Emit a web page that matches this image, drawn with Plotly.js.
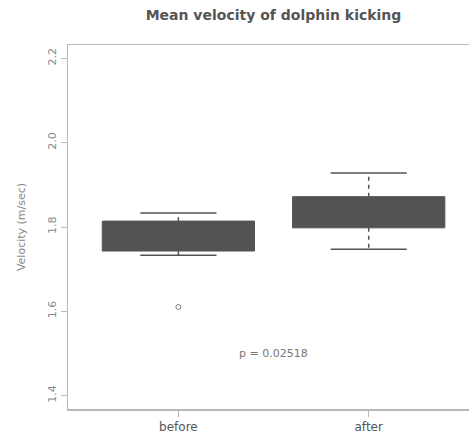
<!DOCTYPE html>
<html>
<head>
<meta charset="utf-8">
<script src="https://cdn.plot.ly/plotly-3.0.1.min.js"></script>
<style>
  html, body { margin: 0; padding: 0; background: #fff; overflow: hidden; }
  #chart { width: 469px; height: 443px; }
</style>
</head>
<body>
<div id="chart"></div>
<script>
// Mean velocity (m/sec) of dolphin kicking, before vs after
const groups = ['before', 'after'];
const groupPos = [1, 2];
const lowerWhisker = [1.733, 1.747];
const lowerQuartile = [1.743, 1.798];
const medians = [1.785, 1.835];
const upperQuartile = [1.814, 1.872];
const upperWhisker = [1.833, 1.928];
const outlierGroup = [1];
const outlierValues = [1.610];
const pLabel = 'p = 0.02518';

const boxColor = '#535353';
const capHalf = 0.2;

// whisker stems (dashed) from box edges out to the caps
const stemX = [], stemY = [];
const capX = [], capY = [];
groupPos.forEach((x, i) => {
  stemX.push(x, x, null, x, x, null);
  stemY.push(upperQuartile[i], upperWhisker[i], null, lowerQuartile[i], lowerWhisker[i], null);
  capX.push(x - capHalf, x + capHalf, null, x - capHalf, x + capHalf, null);
  capY.push(upperWhisker[i], upperWhisker[i], null, lowerWhisker[i], lowerWhisker[i], null);
});

const traces = [
  {
    type: 'box',
    x: groupPos,
    q1: lowerQuartile,
    median: medians,
    q3: upperQuartile,
    lowerfence: lowerQuartile,
    upperfence: upperQuartile,
    width: 0.8,
    fillcolor: boxColor,
    line: { color: boxColor, width: 1 },
    whiskerwidth: 0,
    boxpoints: false,
    hoverinfo: 'skip',
    showlegend: false
  },
  {
    type: 'scatter', mode: 'lines',
    x: stemX, y: stemY,
    line: { color: boxColor, width: 1.5, dash: '4px,4px' },
    connectgaps: false, hoverinfo: 'skip', showlegend: false
  },
  {
    type: 'scatter', mode: 'lines',
    x: capX, y: capY,
    line: { color: boxColor, width: 1.5 },
    connectgaps: false, hoverinfo: 'skip', showlegend: false
  },
  {
    type: 'scatter', mode: 'markers',
    x: outlierGroup, y: outlierValues,
    marker: { symbol: 'circle-open', size: 5, color: '#777', line: { width: 1 } },
    hoverinfo: 'skip', showlegend: false
  }
];

const axisGrey = '#b8b8b8';

const layout = {
  width: 469,
  height: 443,
  margin: { l: 68, r: 0, t: 45, b: 34 },
  paper_bgcolor: '#fff',
  plot_bgcolor: '#fff',
  font: { family: 'DejaVu Sans, sans-serif', color: '#666' },
  title: {
    text: 'Mean velocity of dolphin kicking',
    font: { family: 'DejaVu Sans, sans-serif', size: 14, weight: 'bold', color: '#555' },
    x: 273.5 / 469, xanchor: 'center', xref: 'container',
    y: 1 - 15 / 443, yanchor: 'middle', yref: 'container'
  },
  // frame: bottom + top lines from the x axis, left line from the y axis;
  // the right side of the frame falls just outside the page
  xaxis: {
    range: [0.42, 2.527],
    tickvals: groupPos,
    ticktext: groups,
    ticks: 'outside', ticklen: 6, tickcolor: axisGrey, tickwidth: 1,
    tickfont: { size: 12, color: '#555' },
    showgrid: false, zeroline: false,
    showline: true, linecolor: axisGrey, linewidth: 1.5, mirror: true
  },
  yaxis: {
    range: [1.368, 2.232],
    tickvals: [1.4, 1.6, 1.8, 2.0, 2.2],
    ticktext: ['1.4', '1.6', '1.8', '2.0', '2.2'],
    tickangle: -90,
    ticks: 'outside', ticklen: 6, tickcolor: axisGrey, tickwidth: 1,
    tickfont: { size: 11, color: '#888' },
    showgrid: false, zeroline: false,
    showline: true, linecolor: axisGrey, linewidth: 1.5, mirror: false,
    title: { text: 'Velocity (m/sec)', font: { size: 11, color: '#888' }, standoff: 18 }
  },
  annotations: [
    {
      x: 1.5, y: 1.5, xref: 'x', yref: 'y',
      text: pLabel, showarrow: false,
      font: { size: 11, color: '#777' },
      xanchor: 'center', yanchor: 'middle'
    }
  ]
};

Plotly.newPlot('chart', traces, layout, { displayModeBar: false, staticPlot: true });
</script>
</body>
</html>
